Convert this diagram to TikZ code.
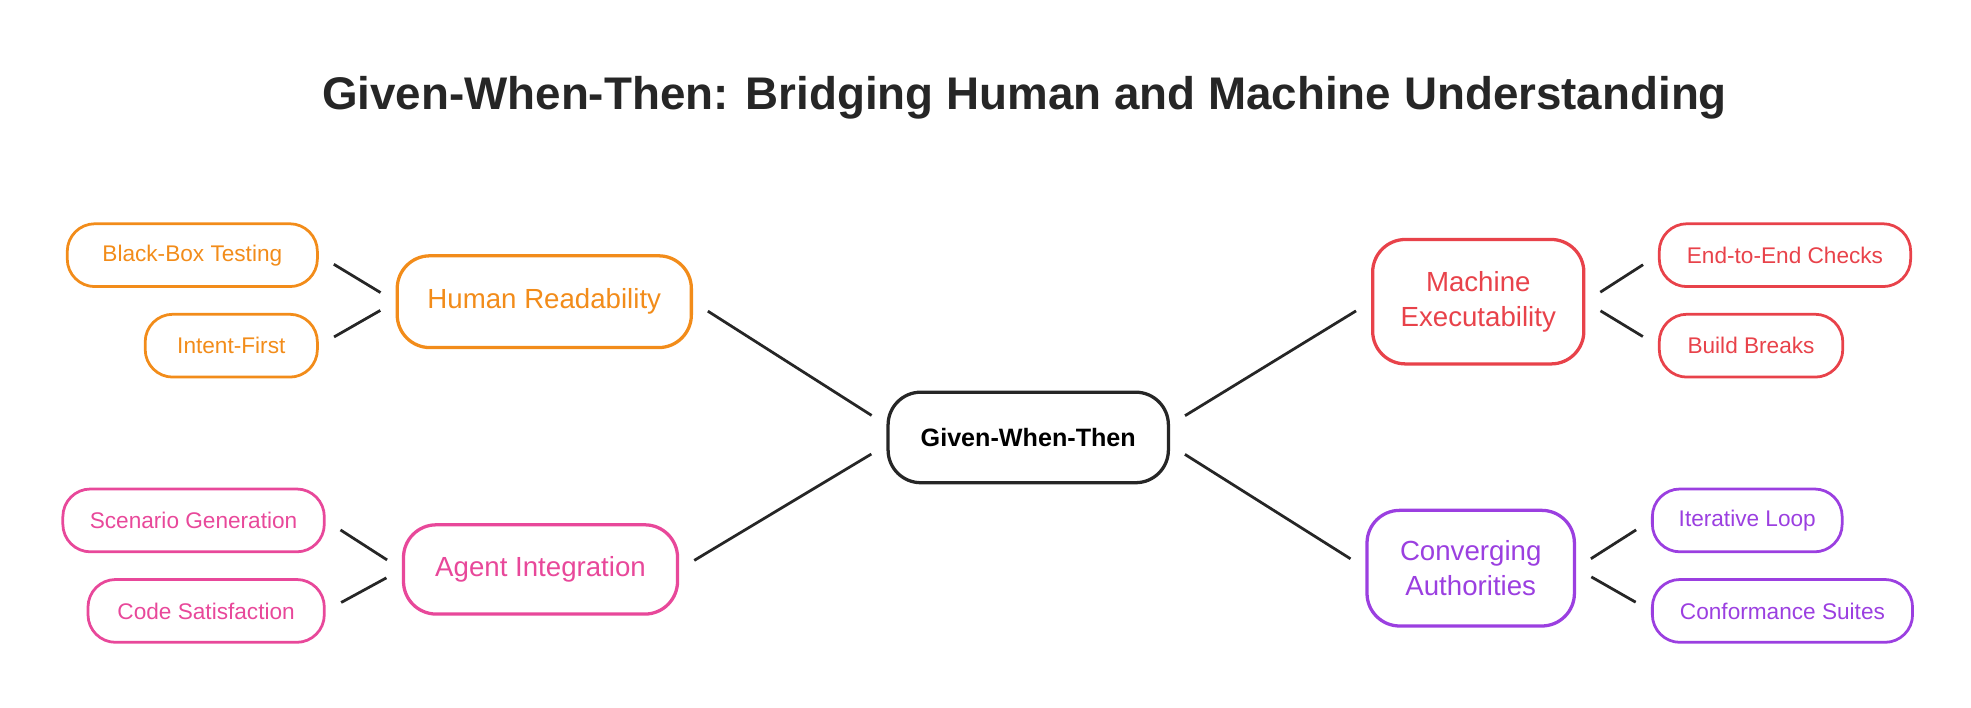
\documentclass[tikz,border=0pt]{standalone}
\usepackage{fontspec}
\setmainfont{Liberation Sans}
\definecolor{cOrange}{RGB}{242,140,26}
\definecolor{cPink}{RGB}{232,72,154}
\definecolor{cRed}{RGB}{232,66,74}
\definecolor{cPurple}{RGB}{155,63,224}
\tikzset{every picture/.style={line width=0.75pt}}
\tikzset{
  hub/.style={draw=black!85,line width=1.3pt,rounded corners=13pt,minimum width=111.5pt,minimum height=36pt,align=center,font=\fontsize{10}{12}\selectfont},
  branch/.style={draw=#1,text=#1,line width=1.3pt,rounded corners=13pt,align=center,font=\fontsize{11}{14}\selectfont},
  leaf/.style={draw=#1,text=#1,line width=1.1pt,rounded corners=11pt,minimum height=25pt,align=center,font=\fontsize{9}{11}\selectfont},
  link/.style={draw=black!85,line width=1.1pt,shorten >=7pt,shorten <=7pt}
}
\begin{document}
\begin{tikzpicture}[x=0.5pt,y=0.5pt,yscale=-1,xscale=1]
\useasboundingbox (0,0) rectangle (1568,563);

% Title
\node [text=black!85] (title) at (815,78) {\fontsize{18.2}{22}\selectfont\bfseries Given-When-Then: Bridging Human and Machine Understanding};

% Center
\node [hub] (gwt) at (818,348) {\bfseries Given-When-Then};

% Branches
\node [branch=cOrange,minimum width=117pt,minimum height=36.5pt] (human) at (433,240) {Human Readability};
\node [branch=cPink,minimum width=109pt,minimum height=35.5pt] (agent) at (430,453) {Agent Integration};
\node [branch=cRed,minimum width=84pt,minimum height=49.5pt] (machine) at (1176,240) {Machine\\Executability};
\node [branch=cPurple,minimum width=82.5pt,minimum height=46pt] (conv) at (1170,452) {Converging\\Authorities};

% Leaves
\node [leaf=cOrange,minimum width=99.5pt] (blackbox) at (153,203) {Black-Box Testing};
\node [leaf=cOrange,minimum width=68.5pt] (intent) at (184,275) {Intent-First};
\node [leaf=cPink,minimum width=104pt] (scenario) at (154,414) {Scenario Generation};
\node [leaf=cPink,minimum width=94pt] (codesat) at (164,486) {Code Satisfaction};
\node [leaf=cRed,minimum width=100pt] (e2e) at (1420,203) {End-to-End Checks};
\node [leaf=cRed,minimum width=73pt] (build) at (1393,275) {Build Breaks};
\node [leaf=cPurple,minimum width=75.5pt] (loop) at (1390,414) {Iterative Loop};
\node [leaf=cPurple,minimum width=103.5pt] (suites) at (1418,486) {Conformance Suites};

% Connectors
\draw [link] (gwt.west) ++(0,-10) -- (human.east);
\draw [link] (gwt.west) ++(0,6) -- (agent.east);
\draw [link] (gwt.east) ++(0,-10) -- (machine.west);
\draw [link] (gwt.east) ++(0,6) -- (conv.west);
\draw [link] (human.west) -- (blackbox.east);
\draw [link] (human.west) -- (intent.east);
\draw [link] (agent.west) -- (scenario.east);
\draw [link] (agent.west) -- (codesat.east);
\draw [link] (machine.east) -- (e2e.west);
\draw [link] (machine.east) -- (build.west);
\draw [link] (conv.east) -- (loop.west);
\draw [link] (conv.east) -- (suites.west);

\end{tikzpicture}
\end{document}
